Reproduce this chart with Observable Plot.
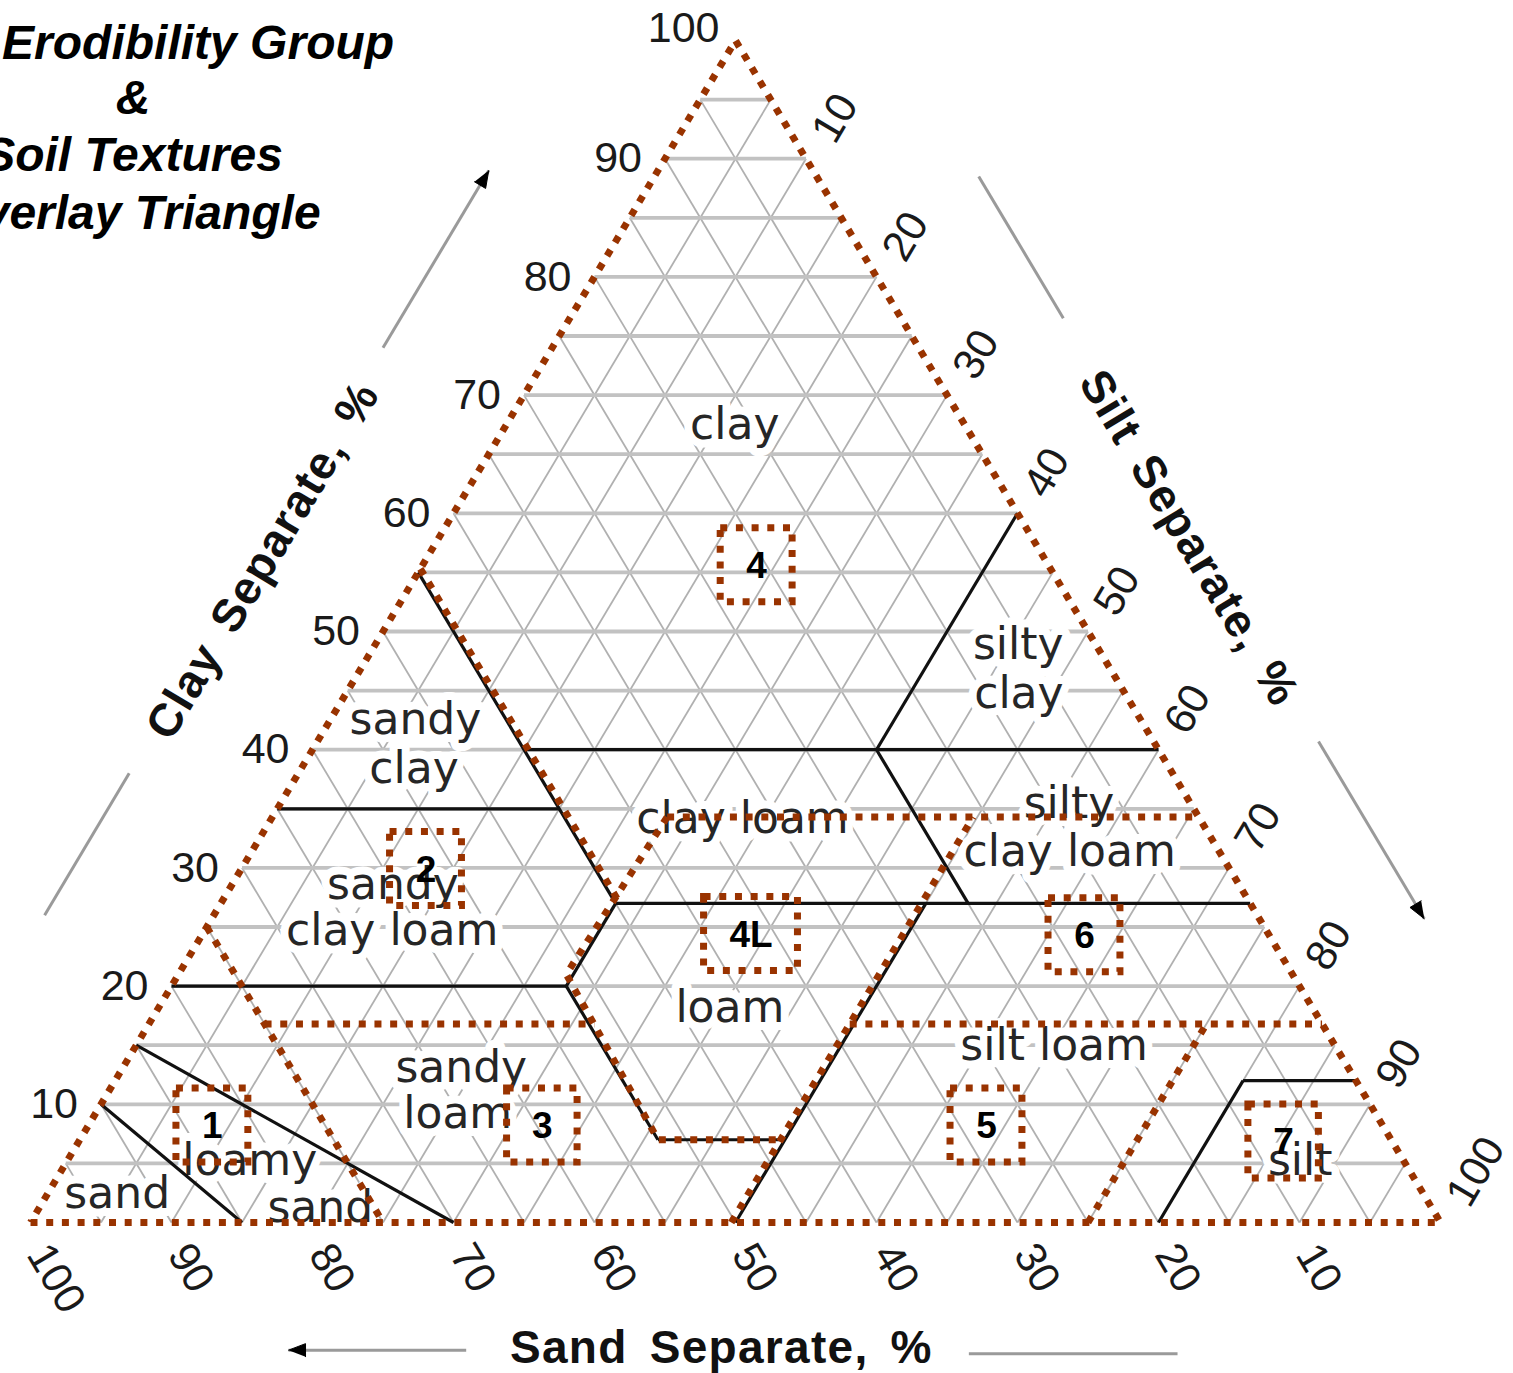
<!DOCTYPE html>
<html>
<head>
<meta charset="utf-8">
<script src="https://cdn.jsdelivr.net/npm/d3@7"></script>
<script src="https://cdn.jsdelivr.net/npm/@observablehq/plot@0.6"></script>
<style>
html,body{margin:0;padding:0;background:#fff;overflow:hidden;}
#wrap{position:relative;width:1513px;height:1373px;overflow:hidden;background:#fff;}
#chart{position:absolute;left:0;top:0;}
.title{position:absolute;left:-167px;width:600px;text-align:center;font-family:"Liberation Sans",Arial,sans-serif;font-style:italic;font-weight:bold;font-size:48px;line-height:48px;color:#000;white-space:nowrap;}
</style>
</head>
<body>
<div id="wrap">
  <div id="chart"></div>
  <div class="title" style="top:19px">Wind Erodibility Group</div>
  <div class="title" style="top:74px">&amp;</div>
  <div class="title" style="top:131px">Soil Textures</div>
  <div class="title" style="top:189px">Overlay Triangle</div>
</div>
<script>
// ---------- data (sand %, clay %; silt = 100 - sand - clay) ----------
const gridSteps = d3.range(5, 100, 5);
const tickValues = [10, 20, 30, 40, 50, 60, 70, 80, 90, 100];

// USDA texture class boundaries (solid black)
const textureBoundaries = [
  [[90, 10], [85, 0]],
  [[85, 15], [70, 0]],
  [[80, 20], [52, 20]],
  [[52, 20], [45, 27]],
  [[52, 20], [52, 7]],
  [[52, 7], [43, 7]],
  [[50, 0], [23, 27]],
  [[45, 27], [0, 27]],
  [[45, 55], [45, 27]],
  [[65, 35], [45, 35]],
  [[45, 40], [0, 40]],
  [[0, 60], [20, 40]],
  [[20, 40], [20, 27]],
  [[20, 0], [8, 12]],
  [[8, 12], [0, 12]]
];

// Erodibility group boundaries (dotted brown)
const groupBoundaries = [
  [[100, 0], [0, 0], [0, 100], [100, 0]],
  [[44.7, 55.3], [44.7, 27.3]],
  [[37.7, 34.3], [51.5, 21], [52, 7], [43.3, 7]],
  [[37.7, 34.3], [0, 34.3]],
  [[50.3, 0], [16, 34.3]],
  [[75, 25], [75, 0]],
  [[75, 16.8], [51.6, 16.8]],
  [[33.5, 16.8], [0, 16.8]],
  [[25, 0], [8.2, 16.8]]
];

// Texture class names
const textureLabels = [
  {text: "clay", sand: 16.2, clay: 67.7},
  {text: "silty", sand: 5.4, clay: 49.1},
  {text: "clay", sand: 7.4, clay: 45.0},
  {text: "sandy", sand: 51.3, clay: 42.8},
  {text: "clay", sand: 53.5, clay: 38.6},
  {text: "clay loam", sand: 32.3, clay: 34.4},
  {text: "silty", sand: 8.5, clay: 35.7},
  {text: "clay loam", sand: 10.5, clay: 31.6},
  {text: "sandy", sand: 59.9, clay: 28.8},
  {text: "clay loam", sand: 61.9, clay: 24.9},
  {text: "loam", sand: 41.2, clay: 18.4},
  {text: "silt loam", sand: 19.8, clay: 15.2},
  {text: "sandy", sand: 62.8, clay: 13.3},
  {text: "loam", sand: 65.0, clay: 9.4},
  {text: "loamy", sand: 81.7, clay: 5.5},
  {text: "sand", sand: 78.7, clay: 1.5},
  {text: "sand", sand: 92.5, clay: 2.7},
  {text: "silt", sand: 7.2, clay: 5.5}
];

// Erodibility group markers
const groupNames = ["4", "2", "4L", "6", "1", "3", "5", "7"];
const groupSand  = [20.7, 57.0, 36.7, 13.1, 83.0, 59.6, 28.1, 7.7];
const groupClay  = [55.6, 29.9, 24.4, 24.3, 8.2, 8.2, 8.2, 6.85];
const groupBoxHalfWidth = [2.55, 2.55, 3.33, 2.55, 2.55, 2.5, 2.55, 2.5];

// Axis titles
const axisTitles = [
  {text: "Clay Separate, %", sand: 55.5, clay: 56.0, rotate: -59},
  {text: "Silt Separate, %", sand: -11.1, clay: 57.9, rotate: 59},
  {text: "Sand Separate, %", sand: 56.3, clay: -10.6, rotate: 0}
];

// Direction arrows beside the axes
const axisArrows = [
  {from: [38, 74], to: [23, 89], head: true},
  {from: [86, 26], to: [74, 38], head: false},
  {from: [-11.5, 88.5], to: [-11.5, 76.5], head: false},
  {from: [-11.7, 40.7], to: [-11.7, 25.7], head: true},
  {from: [74.5, -10.8], to: [87.1, -10.8], head: true},
  {from: [39, -11.1], to: [24.2, -11.1], head: false}
];

// ---------- helpers ----------
const tx = (sand, clay) => (100 - sand - clay) + clay / 2;
const ty = (sand, clay) => clay;
const PX = 1410 / 100, PY = 1182 / 100; // pixels per data unit

const hGrid = gridSteps.map(c => ({x1: tx(100 - c, c), y1: c, x2: tx(0, c), y2: c}));
const dGrid = [
  ...gridSteps.map(s => ({x1: tx(s, 0), y1: 0, x2: tx(s, 100 - s), y2: 100 - s})),
  ...gridSteps.map(t => ({x1: tx(100 - t, 0), y1: 0, x2: tx(0, 100 - t), y2: 100 - t}))
];
const boundarySegs = textureBoundaries.map(([a, b]) => ({x1: tx(...a), y1: ty(...a), x2: tx(...b), y2: ty(...b)}));
const dottedRows = groupBoundaries.flatMap((pts, id) => pts.map(([s, c]) => ({id, x: tx(s, c), y: ty(s, c)})));
const labelRows = textureLabels.map(d => ({...d, x: tx(d.sand, d.clay), y: ty(d.sand, d.clay)}));
const groups = groupNames.map((g, i) => {
  const x = tx(groupSand[i], groupClay[i]), y = ty(groupSand[i], groupClay[i]);
  return {g, x, y, x1: x - groupBoxHalfWidth[i], x2: x + groupBoxHalfWidth[i], y1: y - 3.13, y2: y + 3.13};
});
const clayTicks = tickValues.map(v => ({v, x: tx(100 - v, v), y: v}));
const siltTicks = tickValues.map(v => ({v, x: tx(0, 100 - v), y: 100 - v}));
const sandTicks = tickValues.map(v => ({v, x: tx(v, 0), y: 0}));
const titleRows = axisTitles.map(d => ({...d, x: tx(d.sand, d.clay), y: ty(d.sand, d.clay)}));
const arrowRows = axisArrows.map(d => ({...d, x1: tx(...d.from), y1: ty(...d.from), x2: tx(...d.to), y2: ty(...d.to)}));
// filled arrowheads as small triangles, built from each arrow's direction
const headRows = arrowRows.filter(d => d.head).flatMap((d, id) => {
  const vx = (d.x2 - d.x1) * PX, vy = -(d.y2 - d.y1) * PY;
  const len = Math.hypot(vx, vy), ux = vx / len, uy = vy / len;
  const L = 17, W = 6.5;
  const bx = -ux * L, by = -uy * L;
  const pts = [[0, 0], [bx - uy * W, by + ux * W], [bx + uy * W, by - ux * W]];
  return pts.map(([px, py]) => ({id, x: d.x2 + px / PX, y: d.y2 - py / PY}));
});

const BROWN = "#993300";
const SANS = "Liberation Sans, Arial, sans-serif";

const chart = Plot.plot({
  width: 1513,
  height: 1373,
  marginLeft: 30,
  marginRight: 73,
  marginTop: 40,
  marginBottom: 151,
  x: {domain: [0, 100], axis: null},
  y: {domain: [0, 100], axis: null},
  style: {background: "white", overflow: "visible"},
  marks: [
    Plot.link(dGrid, {x1: "x1", y1: "y1", x2: "x2", y2: "y2", stroke: "#b0b0b0", strokeWidth: 1.8}),
    Plot.link(hGrid, {x1: "x1", y1: "y1", x2: "x2", y2: "y2", stroke: "#c2c2c2", strokeWidth: 3.8}),
    Plot.text(labelRows, {x: "x", y: "y", text: "text", fontFamily: "DejaVu Sans", fontSize: 44, fill: "#262626", stroke: "white", strokeWidth: 16, strokeLinejoin: "round", dy: 3}),
    Plot.link(boundarySegs, {x1: "x1", y1: "y1", x2: "x2", y2: "y2", stroke: "#111", strokeWidth: 3.2}),
    Plot.line(dottedRows, {x: "x", y: "y", z: "id", stroke: BROWN, strokeWidth: 7, strokeDasharray: "7,8.7", strokeLinecap: "butt", strokeLinejoin: "miter"}),
    Plot.rect(groups, {x1: "x1", x2: "x2", y1: "y1", y2: "y2", fill: "none", stroke: BROWN, strokeWidth: 7, strokeDasharray: "7,8.7"}),
    Plot.text(groups, {x: "x", y: "y", text: "g", fontFamily: SANS, fontWeight: "bold", fontSize: 37, fill: "#000", dy: 1}),
    Plot.text(clayTicks.filter(d => d.v < 100), {x: "x", y: "y", text: "v", fontFamily: SANS, fontSize: 43, fill: "#1a1a1a", textAnchor: "end", dx: -23}),
    Plot.text(clayTicks.filter(d => d.v === 100), {x: "x", y: "y", text: "v", fontFamily: SANS, fontSize: 43, fill: "#1a1a1a", textAnchor: "end", dx: -16, dy: -12}),
    Plot.text(siltTicks, {x: "x", y: "y", text: "v", fontFamily: SANS, fontSize: 43, fill: "#1a1a1a", textAnchor: "start", rotate: -59.2, dx: 17, dy: -20}),
    Plot.text(sandTicks, {x: "x", y: "y", text: "v", fontFamily: SANS, fontSize: 43, fill: "#1a1a1a", textAnchor: "start", rotate: 59.2, dx: 7, dy: 25}),
    Plot.text(titleRows, {x: "x", y: "y", text: "text", rotate: "rotate", fontFamily: SANS, fontWeight: "bold", fontSize: 46, fill: "#111"}),
    Plot.link(arrowRows, {x1: "x1", y1: "y1", x2: "x2", y2: "y2", stroke: "#9a9a9a", strokeWidth: 3}),
    Plot.line(headRows, {x: "x", y: "y", z: "id", fill: "#000", stroke: "#000", strokeWidth: 1})
  ]
});
// wider tracking on the three axis titles, as in the reference
const titleSet = new Set(axisTitles.map(d => d.text));
d3.select(chart).selectAll("text")
  .filter(function() { return titleSet.has(this.textContent); })
  .style("letter-spacing", "1.3px")
  .style("word-spacing", "8px");
document.getElementById("chart").appendChild(chart);
</script>
</body>
</html>
